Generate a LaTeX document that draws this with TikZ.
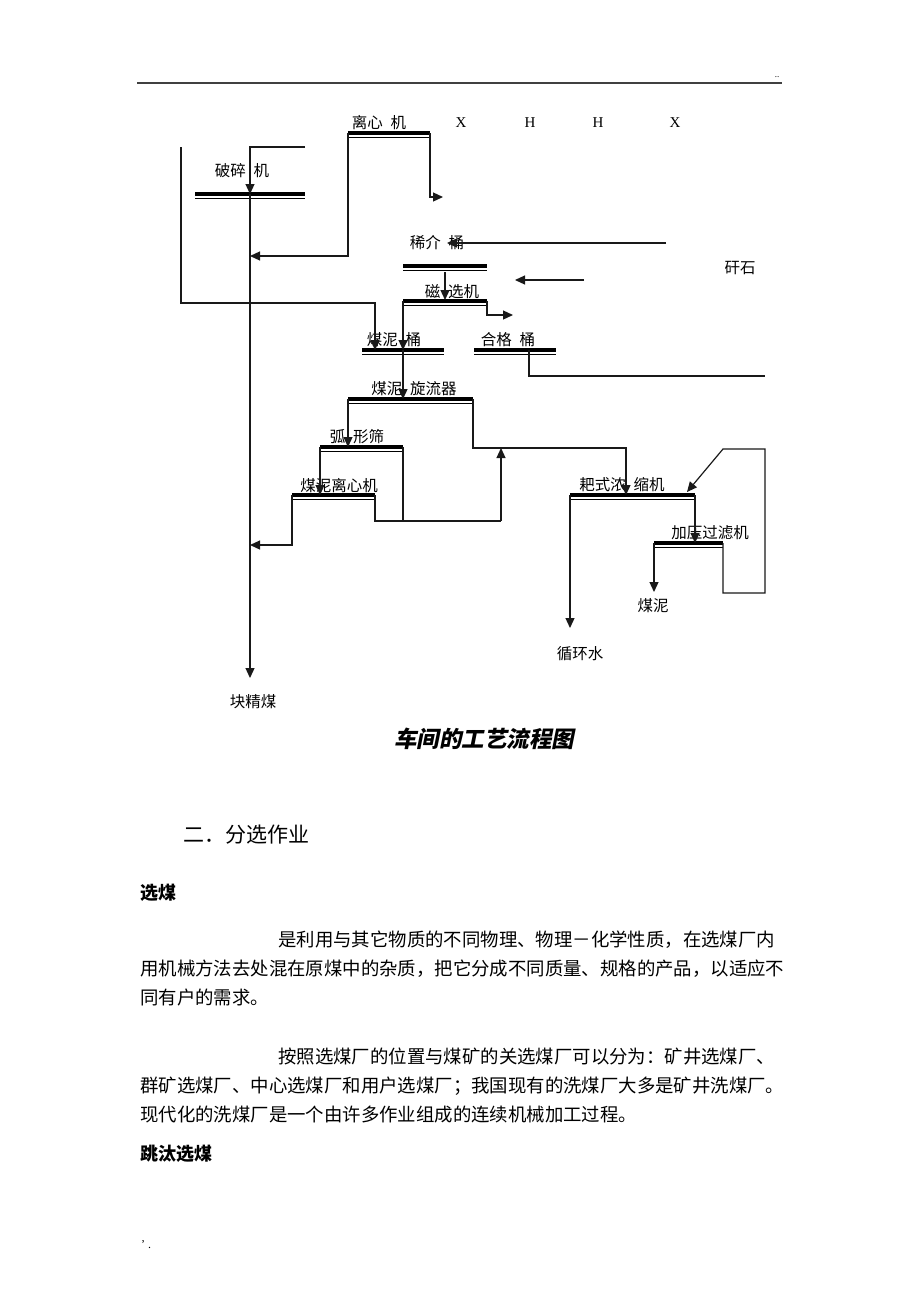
\documentclass[tikz,border=0pt]{standalone}
\usepackage{fontspec}
\setmainfont{Liberation Serif}
\newfontfamily\cjk{Noto Sans CJK SC}
\newfontfamily\capfont[FakeSlant=0.2,BoldFeatures={FakeSlant=0.2}]{Noto Sans CJK SC}
\usetikzlibrary{arrows.meta,calc}

\tikzset{
  flow/.style={line width=1.2pt, black!90},
  flowto/.style={flow, -{Triangle[length=10pt,width=9pt]}},
  lbl/.style={font=\cjk\fontsize{15.5}{16}\selectfont, inner sep=0pt},
  lat/.style={font=\fontsize{15}{16}\selectfont, inner sep=0pt},
  para/.style={font=\cjk\fontsize{18.4}{20}\selectfont, inner sep=0pt, anchor=west},
  head/.style={font=\cjk\bfseries\fontsize{18}{20}\selectfont, inner sep=0pt, anchor=west},
}

\begin{document}
\begin{tikzpicture}[x=1pt,y=-1pt]
  \useasboundingbox[fill=white] (0,0) rectangle (920,1302);

  \coordinate (hdr-l) at (137,83);
  \coordinate (hdr-r) at (782,83);
  \draw[line width=1.4pt, black!75] (hdr-l) -- (hdr-r);
  \node[inner sep=0pt, font=\fontsize{9}{9}\selectfont] (dots) at (777,77) {..};

  \foreach \nm/\xl/\xr/\yy in {lixin/348/430/133, posui/195/305/194,
      xijie/403/487/266, cixuan/403/487/301, nitong/362/444/350,
      hege/474/556/350, xuanliu/348/473/399, huxing/320/403/447,
      nilixin/292/375/495, nongsuo/570/695/495, guolv/654/723/543}
  {
    \coordinate (\nm-l) at (\xl,\yy);
    \coordinate (\nm-r) at (\xr,\yy);
    \draw[line width=3.5pt] (\nm-l) -- (\nm-r);
    \draw[line width=1.2pt] ($(\nm-l)+(0,4.5)$) -- ($(\nm-r)+(0,4.5)$);
  }

  \node[lbl] (lixin) at (379,123) {离心\enspace 机};
  \node[lbl] (posui) at (242,171) {破碎\enspace 机};
  \node[lbl] (xijie) at (437,243) {稀介\enspace 桶};
  \node[lbl] (cixuan) at (452,292) {磁\enspace 选机};
  \node[lbl] (nitong) at (394,340) {煤泥\enspace 桶};
  \node[lbl] (hege) at (508,340) {合格\enspace 桶};
  \node[lbl] (xuanliu) at (414,389) {煤泥\enspace 旋流器};
  \node[lbl] (huxing) at (357,437) {弧\enspace 形筛};
  \node[lbl] (nilixin) at (339,486) {煤泥离心机};
  \node[lbl] (nongsuo) at (622,485) {耙式浓\enspace 缩机};
  \node[lbl] (guolv) at (710,533) {加压过滤机};
  \node[lbl] (meini) at (653,606) {煤泥};
  \node[lbl] (xunhuan) at (580,654) {循环水};
  \node[lbl] (kuai) at (253,702) {块精煤};
  \node[lbl] (ganshi) at (740,268) {矸石};

  \node[lat] (x1) at (461,123) {X};
  \node[lat] (h1) at (530,123) {H};
  \node[lat] (h2) at (598,123) {H};
  \node[lat] (x2) at (675,123) {X};

  \coordinate (lixin-out) at (443,197);
  \coordinate (main-a) at (250,256);
  \coordinate (posui-in) at (305,147);
  \coordinate (posui-c) at (250,194);
  \coordinate (jingmei) at (250,678);
  \coordinate (zuo-top) at (181,147);
  \coordinate (zuo-turn) at (375,303);
  \coordinate (nitong-in) at (375,350);
  \coordinate (xijie-src) at (666,243);
  \coordinate (xijie-in) at (447,243);
  \coordinate (xijie-o) at (445,272);
  \coordinate (cixuan-i) at (445,300);
  \coordinate (ganshi-src) at (584,280);
  \coordinate (ganshi-in) at (515,280);
  \coordinate (cixuan-out) at (513,315);
  \coordinate (hege-o) at (529,350);
  \coordinate (hege-end) at (765,376);
  \coordinate (fan-top) at (501,448);
  \coordinate (fan-bot) at (501,521);
  \coordinate (nongsuo-in) at (626,495);
  \coordinate (main-b) at (250,545);
  \coordinate (xunhuan-in) at (570,628);
  \coordinate (meini-in) at (654,592);
  \coordinate (loop-a) at (765,593);
  \coordinate (loop-b) at (765,449);
  \coordinate (loop-c) at (723,449);
  \coordinate (nongsuo-fb) at (687,492);

  \draw[flowto] (lixin-r) |- (lixin-out);
  \draw[flowto] (lixin-l) |- (main-a);
  \draw[flowto] (posui-in) -| (posui-c);
  \draw[flowto] (posui-c) -- (jingmei);
  \draw[flowto] (zuo-top) |- (zuo-turn) -- (nitong-in);
  \draw[flowto] (xijie-src) -- (xijie-in);
  \draw[flowto] (xijie-o) -- (cixuan-i);
  \draw[flowto] (ganshi-src) -- (ganshi-in);
  \draw[flowto] (cixuan-r) |- (cixuan-out);
  \draw[flowto] (cixuan-l) -- (cixuan-l |- nitong-l);
  \draw[flowto] (cixuan-l |- nitong-l) -- (cixuan-l |- xuanliu-l);
  \draw[flow] (hege-o) |- (hege-end);
  \draw[flowto] (xuanliu-l) -- (xuanliu-l |- huxing-l);
  \draw[flowto] (xuanliu-r) |- (fan-top) -| (nongsuo-in);
  \draw[flowto] (fan-bot) -- (fan-top);
  \draw[flowto] (huxing-l) -- (huxing-l |- nilixin-l);
  \draw[flow] (huxing-r) -- (huxing-r |- fan-bot);
  \draw[flow] (nilixin-r) |- (fan-bot);
  \draw[flowto] (nilixin-l) |- (main-b);
  \draw[flowto] (nongsuo-l) -- (xunhuan-in);
  \draw[flowto] (nongsuo-r) -- (nongsuo-r |- guolv-l);
  \draw[flowto] (guolv-l) -- (meini-in);
  \draw[flowto] (guolv-r) |- (loop-a) -- (loop-b) -- (loop-c) -- (nongsuo-fb);

  \node[inner sep=0pt, font=\capfont\bfseries\fontsize{22.5}{24}\selectfont] (caption) at (484,739) {车间的工艺流程图};

  \node[para, font=\cjk\fontsize{21}{22}\selectfont] (sec) at (183,835) {二．分选作业};
  \node[head] (xuanmei) at (140,893) {选煤};
  \node[para] (p1a) at (278,940) {是利用与其它物质的不同物理、物理－化学性质，在选煤厂内};
  \node[para] (p1b) at (140,969) {用机械方法去处混在原煤中的杂质，把它分成不同质量、规格的产品，以适应不};
  \node[para] (p1c) at (140,998) {同有户的需求。};
  \node[para] (p2a) at (278,1057) {按照选煤厂的位置与煤矿的关选煤厂可以分为：矿井选煤厂、};
  \node[para] (p2b) at (140,1086) {群矿选煤厂、中心选煤厂和用户选煤厂；我国现有的洗煤厂大多是矿井洗煤厂。};
  \node[para] (p2c) at (140,1115) {现代化的洗煤厂是一个由许多作业组成的连续机械加工过程。};
  \node[head] (tiaotai) at (140,1154) {跳汰选煤};
  \node[inner sep=0pt, anchor=west, font=\fontsize{12}{12}\selectfont] (foot) at (141,1245) {' .};
\end{tikzpicture}
\end{document}
